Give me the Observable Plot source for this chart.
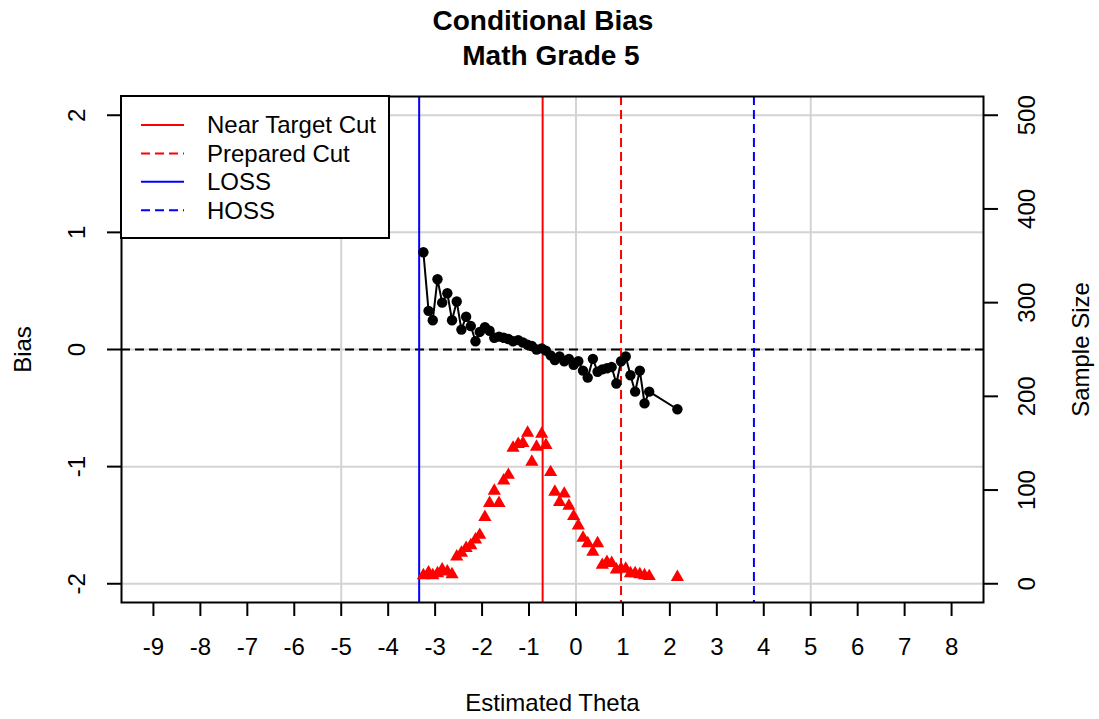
<!DOCTYPE html>
<html>
<head>
<meta charset="utf-8">
<script src="https://cdn.jsdelivr.net/npm/d3@7"></script>
<script src="https://cdn.jsdelivr.net/npm/@observablehq/plot@0.6"></script>
<style>
  html, body { margin: 0; padding: 0; background: #fff; }
  #chart { width: 1099px; font-family: "Liberation Sans", Arial, sans-serif; }
  #titles { position: relative; width: 1099px; height: 80px; font-weight: bold; font-size: 28px; color: #000; }
  #titles div { position: absolute; line-height: 28px; white-space: pre; text-align: center; }
</style>
</head>
<body>
<div id="chart">
  <div id="titles">
    <div id="t1" style="left:343px;width:400px;top:7px;">Conditional Bias</div>
    <div id="t2" style="left:351px;width:400px;top:42px;">Math Grade 5</div>
  </div>
</div>
<script>
// ---- data ----
const theta = [-3.25, -3.14, -3.05, -2.95, -2.85, -2.74, -2.64, -2.54, -2.44, -2.34,
  -2.24, -2.14, -2.05, -1.94, -1.84, -1.74, -1.64, -1.54, -1.44, -1.34,
  -1.23, -1.13, -1.03, -0.94, -0.84, -0.73, -0.64, -0.54, -0.45, -0.35,
  -0.25, -0.15, -0.05, 0.05, 0.15, 0.25, 0.36, 0.46, 0.56, 0.66,
  0.76, 0.86, 0.96, 1.06, 1.16, 1.26, 1.36, 1.46, 1.56, 2.16];
const bias = [0.83, 0.33, 0.25, 0.60, 0.40, 0.48, 0.25, 0.41, 0.17, 0.28,
  0.20, 0.07, 0.15, 0.19, 0.16, 0.10, 0.11, 0.10, 0.09, 0.07,
  0.08, 0.06, 0.04, 0.03, 0.00, 0.01, -0.01, -0.05, -0.09, -0.06,
  -0.10, -0.08, -0.13, -0.10, -0.18, -0.24, -0.08, -0.19, -0.17, -0.16,
  -0.15, -0.29, -0.10, -0.06, -0.22, -0.36, -0.18, -0.46, -0.36, -0.51];
const sampleSize = [9, 12, 9, 11, 15, 13, 10, 29, 33, 38,
  41, 47, 52, 71, 86, 99, 86, 110, 116, 145,
  149, 150, 161, 130, 146, 160, 148, 119, 98, 87,
  96, 83, 72, 62, 49, 43, 34, 43, 20, 23,
  22, 15, 16, 16, 11, 11, 10, 9, 8, 7];

const xTicks = [-9, -8, -7, -6, -5, -4, -3, -2, -1, 0, 1, 2, 3, 4, 5, 6, 7, 8];
const biasTicks = [-2, -1, 0, 1, 2];
const sizeTicks = [0, 100, 200, 300, 400, 500];
const gridXTicks = [-5, 0, 5];

const cutLabels = ["Near Target Cut", "Prepared Cut", "LOSS", "HOSS"];
const cutValues = [-0.71, 0.96, -3.34, 3.79];

// ---- styles ----
const cutStyles = [
  {stroke: "#ff0000", dash: null},
  {stroke: "#ff0000", dash: "9,5"},
  {stroke: "#0000ff", dash: null},
  {stroke: "#0000ff", dash: "9,5"}
];
const FONT = 24;

// secondary axis: sample size 0..500 shares the bias range -2..2
const sizeToY = n => n / 125 - 2;

const rows = theta.map((t, i) => ({theta: t, bias: bias[i], n: sampleSize[i]}));
const cuts = cutValues.map((v, i) => ({value: v, label: cutLabels[i], ...cutStyles[i]}));

const svg = Plot.plot({
  width: 1099,
  height: 639,
  marginTop: 16,
  marginBottom: 117,
  marginLeft: 121,
  marginRight: 116,
  style: {fontFamily: "'Liberation Sans', Arial, sans-serif", fontSize: FONT + "px", background: "#fff", color: "#000"},
  x: {domain: [-9.68, 8.68]},
  y: {domain: [-2.16, 2.16]},
  marks: [
    Plot.gridX(gridXTicks, {stroke: "#d3d3d3", strokeOpacity: 1, strokeWidth: 2}),
    Plot.gridY(biasTicks, {stroke: "#d3d3d3", strokeOpacity: 1, strokeWidth: 2}),
    Plot.ruleY([0], {stroke: "#000", strokeWidth: 2, strokeDasharray: "9,5"}),
    ...cuts.map(c => Plot.ruleX([c.value], {stroke: c.stroke, strokeWidth: 2, strokeDasharray: c.dash})),
    Plot.line(rows, {x: "theta", y: "bias", stroke: "#000", strokeWidth: 2}),
    Plot.dot(rows, {x: "theta", y: "bias", r: 5.2, fill: "#000", symbol: "circle"}),
    Plot.dot(rows, {x: "theta", y: d => sizeToY(d.n), r: 4.9, fill: "#ff0000", symbol: "triangle"}),
    Plot.frame({stroke: "#000", strokeWidth: 2}),
    // bottom axis
    Plot.axisX({ticks: xTicks, tickSize: 14, fill: "none", stroke: "#000", strokeWidth: 2, label: null}),
    Plot.text(xTicks, {x: d => d, frameAnchor: "bottom", dy: 45, text: d => String(d), fontSize: FONT, fill: "#000", lineAnchor: "middle"}),
    Plot.text(["Estimated Theta"], {frameAnchor: "bottom", dy: 101, fontSize: FONT, fill: "#000", lineAnchor: "middle"}),
    // left axis
    Plot.axisY({anchor: "left", ticks: biasTicks, tickSize: 14, fill: "none", stroke: "#000", strokeWidth: 2, label: null}),
    Plot.text(biasTicks, {y: d => d, frameAnchor: "left", dx: -44, rotate: -90, text: d => String(d), fontSize: FONT, fill: "#000", lineAnchor: "middle", textAnchor: "middle"}),
    Plot.text(["Bias"], {frameAnchor: "left", dx: -98, rotate: -90, fontSize: FONT, fill: "#000", lineAnchor: "middle", textAnchor: "middle"}),
    // right axis (sample size)
    Plot.axisY({anchor: "right", ticks: sizeTicks.map(sizeToY), tickSize: 14, fill: "none", stroke: "#000", strokeWidth: 2, label: null}),
    Plot.text(sizeTicks, {y: d => sizeToY(d), frameAnchor: "right", dx: 44, rotate: -90, text: d => String(d), fontSize: FONT, fill: "#000", lineAnchor: "middle", textAnchor: "middle"}),
    Plot.text(["Sample Size"], {frameAnchor: "right", dx: 98, rotate: -90, fontSize: FONT, fill: "#000", lineAnchor: "middle", textAnchor: "middle"})
  ]
});

// legend (top-left inside the plot frame)
const lg = d3.select(svg).append("g").attr("class", "legend")
  .attr("font-family", "'Liberation Sans', Arial, sans-serif").attr("font-size", FONT)
  .attr("text-anchor", "start");
lg.append("rect").attr("x", 121).attr("y", 16).attr("width", 268).attr("height", 142)
  .attr("fill", "#fff").attr("stroke", "#000").attr("stroke-width", 2);
cuts.forEach((c, i) => {
  const yy = 45 + i * 28.4;
  lg.append("line").attr("x1", 141).attr("x2", 184).attr("y1", yy).attr("y2", yy)
    .attr("stroke", c.stroke).attr("stroke-width", 2)
    .attr("stroke-dasharray", c.dash);
  lg.append("text").attr("x", 207).attr("y", yy).attr("dy", "0.35em")
    .attr("text-anchor", "start").attr("fill", "#000").text(c.label);
});

document.getElementById("chart").appendChild(svg);
</script>
</body>
</html>
